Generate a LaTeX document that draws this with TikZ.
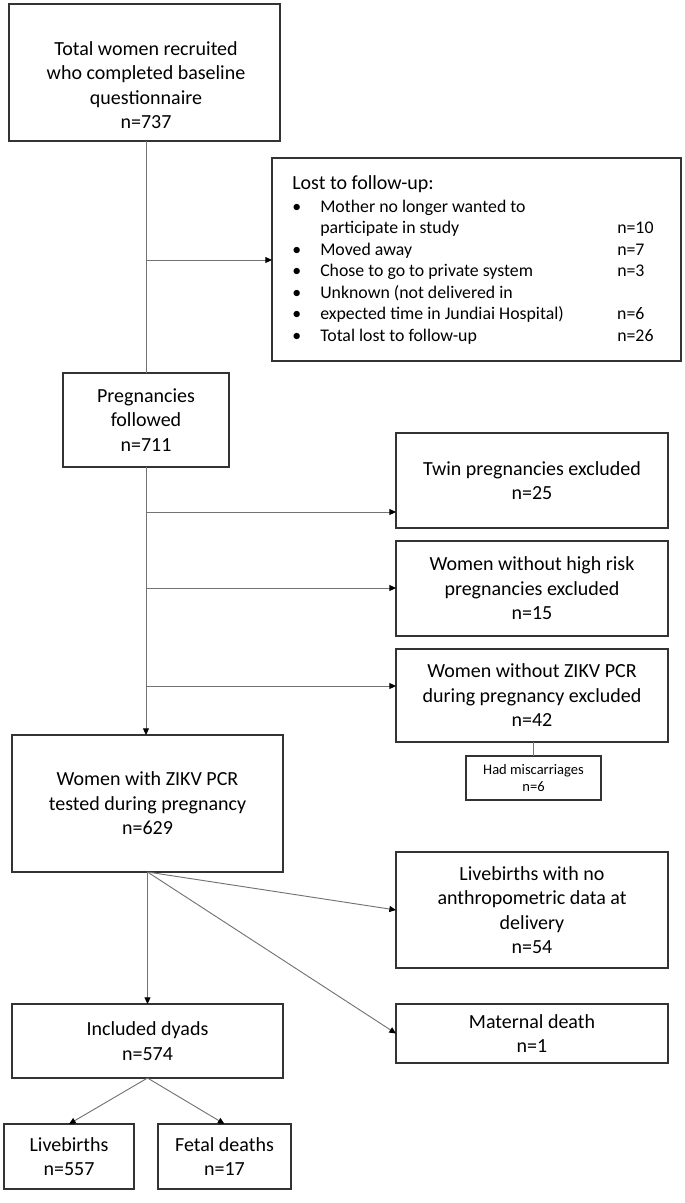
\documentclass[tikz,border=0pt]{standalone}
\usepackage{fontspec}
\setmainfont{Carlito}
\usetikzlibrary{arrows.meta}

\begin{document}
\begin{tikzpicture}
        [
            x=0.75pt, y=-0.75pt,
            box/.style = {draw=black!80, line width=0.9pt, inner sep=0pt, outer sep=0pt, align=center, font=\fontsize{15}{18.4}\selectfont},
            smallbox/.style = {box, font=\fontsize{10.9}{12.8}\selectfont},
            link/.style = {draw=black!55, line width=0.7pt},
            arrow/.style = {link, -{Triangle[length=5pt, width=4.5pt, color=black]}},
        ]
        \useasboundingbox (0,0) rectangle (685,1203);
        % left column
        \node [box, minimum width=203.25pt, minimum height=102.75pt] (total) at (144.5,72.5) {};
        \node [align=center, font=\fontsize{15}{18.4}\selectfont] (totaltxt) at (146,85) {Total women recruited\\who completed baseline\\questionnaire\\n=737};
        \node [box, minimum width=124.5pt, minimum height=70.5pt] (preg) at (146,420) {Pregnancies\\followed\\n=711};
        \node [box, minimum width=203.25pt, minimum height=102.75pt] (zikv) at (147.5,803.5) {Women with ZIKV PCR\\tested during pregnancy\\n=629};
        \node [box, minimum width=203.25pt, minimum height=55.5pt] (dyads) at (147.5,1041) {Included dyads\\n=574};
        \node [box, minimum width=97.5pt, minimum height=48.75pt] (live) at (69,1156.5) {Livebirths\\n=557};
        \node [box, minimum width=99.75pt, minimum height=48.75pt] (fetal) at (224.5,1156.5) {Fetal deaths\\n=17};
        % right column
        \node [box, minimum width=306.75pt, minimum height=152.25pt] (lost) at (476.5,259.5) {};
        \node [anchor=base west, inner sep=0pt, font=\fontsize{13.35}{16.1}\selectfont] (losttxt) at (292,189) {%
            \begin{tabular}[t]{@{}p{21pt}@{}p{222.75pt}@{}l@{}}
                \multicolumn{3}{@{}l@{}}{\fontsize{15}{18}\selectfont Lost to follow-up:}\\[1.5pt]
                \textbullet & Mother no longer wanted to & \\
                & participate in study & n=10\\
                \textbullet & Moved away & n=7\\
                \textbullet & Chose to go to private system & n=3\\
                \textbullet & Unknown (not delivered in & \\
                \textbullet & expected time in Jundiai Hospital) & n=6\\
                \textbullet & Total lost to follow-up & n=26
            \end{tabular}};
        \node [box, minimum width=204pt, minimum height=71.25pt] (twin) at (532,480.5) {Twin pregnancies excluded\\n=25};
        \node [box, minimum width=204pt, minimum height=71.25pt] (highrisk) at (532,588.5) {Women without high risk\\pregnancies excluded\\n=15};
        \node [box, minimum width=204pt, minimum height=69.75pt] (nopcr) at (532,695.5) {Women without ZIKV PCR\\during pregnancy excluded\\n=42};
        \node [smallbox, minimum width=101.25pt, minimum height=33pt] (misc) at (533.5,778) {Had miscarriages\\n=6};
        \node [box, minimum width=204pt, minimum height=87pt] (noanthro) at (532,910) {Livebirths with no\\anthropometric data at\\delivery\\n=54};
        \node [box, minimum width=204pt, minimum height=44.25pt] (maternal) at (532,1033.5) {Maternal death\\n=1};
        % junctions
        \coordinate (j1) at (146,260);
        \coordinate (j2) at (146,512);
        \coordinate (j3) at (146,588);
        \coordinate (j4) at (146,686);
        % connectors
        \draw[link] (preg.north |- total.south) -- (preg.north);
        \draw[arrow] (j1) -- (j1 -| lost.west);
        \draw[arrow] (preg.south) -- (preg.south |- zikv.north);
        \draw[arrow] (j2) -- (j2 -| twin.west);
        \draw[arrow] (j3) -- (j3 -| highrisk.west);
        \draw[arrow] (j4) -- (j4 -| nopcr.west);
        \draw[link] (misc.north |- nopcr.south) -- (misc.north);
        \draw[arrow] (zikv.south) -- (noanthro.west);
        \draw[arrow] (zikv.south) -- (maternal.west);
        \draw[arrow] (zikv.south) -- (dyads.north);
        \draw[arrow] (dyads.south) -- (live.north);
        \draw[arrow] (dyads.south) -- (fetal.north);
    \end{tikzpicture}
\end{document}
